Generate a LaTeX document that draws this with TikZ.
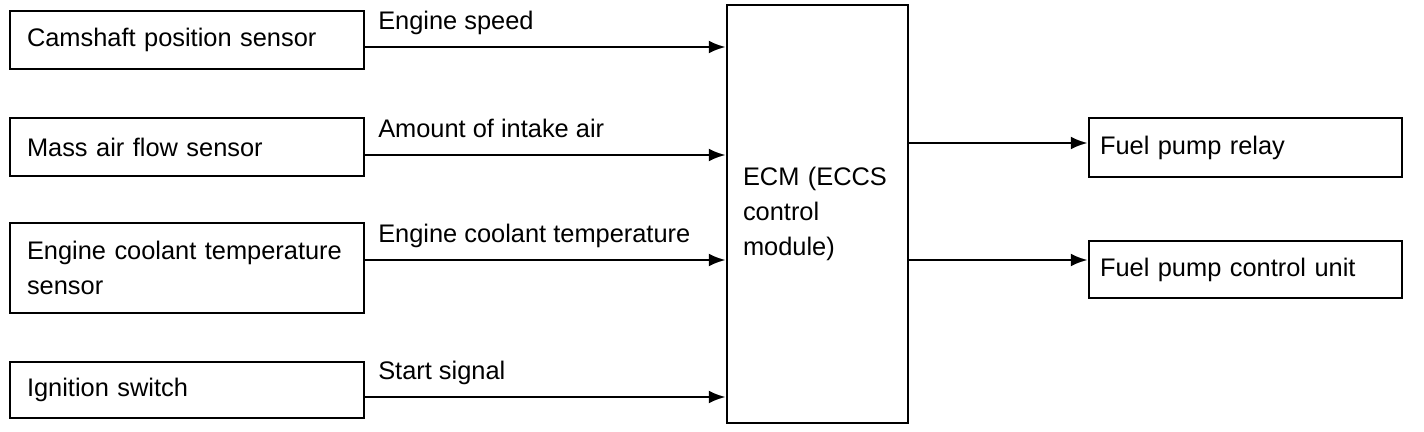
\documentclass[tikz,border=0pt]{standalone}
\usepackage{fontspec}
\setmainfont{Liberation Sans}
\usetikzlibrary{arrows.meta}

\begin{document}
\begin{tikzpicture}[x=0.5pt, y=-0.5pt,
	font=\fontsize{12.7}{17.5}\selectfont,
	sensor/.style={draw, line width=1.2pt, rectangle, minimum width=177pt, text width=160pt, inner xsep=8.5pt, align=left},
	actor/.style={draw, line width=1.2pt, rectangle, minimum width=156.5pt, text width=145.5pt, inner xsep=5.5pt, align=left},
	lbl/.style={pos=0, anchor=base west, xshift=2.5pt, yshift=8.5pt},
	sig/.style={draw, line width=1.4pt, -{Latex[length=8.5pt, width=6.5pt]}}]
		\useasboundingbox (0,0) rectangle (1424,432);
		% inputs
		\node[sensor, minimum height=29pt](cam) at (187,40) {Camshaft position sensor};
		\node[sensor, minimum height=29pt](maf) at (187,147) {Mass air flow sensor};
		\node[sensor, minimum height=45pt](ect) at (187,268) {Engine coolant temperature\\sensor};
		\node[sensor, minimum height=28pt](ign) at (187,390) {Ignition switch};
		% control module
		\node[draw, line width=1.2pt, minimum width=90.5pt, minimum height=209pt, text width=74.5pt, inner xsep=8pt, align=left](ecm) at (817.5,214) {ECM (ECCS\\control\\module)};
		% outputs
		\node[actor, minimum height=29.5pt](relay) at (1245.5,147.5) {Fuel pump relay};
		\node[actor, minimum height=28.5pt](fpcu) at (1245.5,269.5) {Fuel pump control unit};
		\coordinate (s1) at ([yshift=-3.5pt]cam.east);
		\coordinate (s2) at ([yshift=-4pt]maf.east);
		\coordinate (s3) at ([yshift=4pt]ect.east);
		\coordinate (s4) at ([yshift=-3.5pt]ign.east);
		\coordinate (r1) at ([yshift=2.25pt]relay.west);
		\coordinate (r2) at ([yshift=4.75pt]fpcu.west);
		\path
		(s1) edge[sig] node[lbl]{Engine speed} (ecm.west |- s1)
		(s2) edge[sig] node[lbl]{Amount of intake air} (ecm.west |- s2)
		(s3) edge[sig] node[lbl]{Engine coolant temperature} (ecm.west |- s3)
		(s4) edge[sig] node[lbl]{Start signal} (ecm.west |- s4)
		(ecm.east |- r1) edge[sig] (r1)
		(ecm.east |- r2) edge[sig] (r2);
		\end{tikzpicture}
\end{document}
